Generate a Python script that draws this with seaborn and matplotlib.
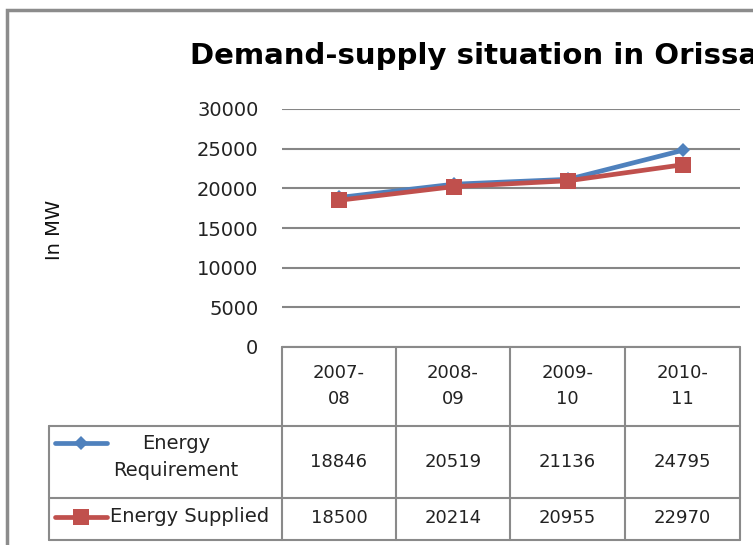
import pandas as pd
import seaborn as sns
import matplotlib.pyplot as plt
from matplotlib.lines import Line2D
from matplotlib.patches import Rectangle

# data
periods = ['2007-\n08', '2008-\n09', '2009-\n10', '2010-\n11']
requirement = [18846, 20519, 21136, 24795]
supplied = [18500, 20214, 20955, 22970]
series_names = ['Energy\nRequirement', 'Energy Supplied']
colors = ['#4F81BD', '#C0504D']

sns.set_style('white')
plt.rcParams['font.family'] = ['DejaVu Sans']

W, H = 753, 545
fig = plt.figure(figsize=(W / 100, H / 100), dpi=100)


def fx(x):
    return x / W


def fy(y):
    return 1 - y / H


txt_c = '#222222'
fs = 13

# plot area
ax = fig.add_axes([fx(282), fy(347), fx(740) - fx(282), fy(109) - fy(347)])

df_req = pd.DataFrame({'period': periods, 'value': requirement})
df_sup = pd.DataFrame({'period': periods, 'value': supplied})
sns.lineplot(data=df_req, x='period', y='value', ax=ax, color=colors[0], lw=3.4,
             marker='D', markersize=7, markeredgewidth=0, sort=False)
sns.lineplot(data=df_sup, x='period', y='value', ax=ax, color=colors[1], lw=3.4,
             marker='s', markersize=12, markeredgewidth=0, sort=False)

ax.set_xlim(-0.5, 3.5)
ax.set_ylim(0, 30000)
ax.set_yticks(range(0, 30001, 5000))
ax.yaxis.grid(True, color='#868686', lw=1.5)
ax.set_axisbelow(True)
for s in ax.spines.values():
    s.set_visible(False)
ax.set_xticks([])
ax.set_xlabel('')
ax.set_ylabel('')
ax.tick_params(axis='y', labelsize=14, colors=txt_c, pad=17, length=0)

fig.text(fx(55), fy(230), 'In MW', rotation=90, ha='center', va='center',
         fontsize=14, color='#111111')

# title (cut off on the right like the original)
fig.text(fx(190), fy(56), 'Demand-supply situation in Orissa', ha='left', va='center',
         fontsize=21, fontweight='bold', color='black')

# data table
grid_c = '#8a8a8a'
col_x = [282, 396, 510, 625, 740]
for x in col_x:
    fig.add_artist(Line2D([fx(x), fx(x)], [fy(347), fy(540)], color=grid_c, lw=1.5))
fig.add_artist(Line2D([fx(49), fx(49)], [fy(426), fy(540)], color=grid_c, lw=1.5))
fig.add_artist(Line2D([fx(282), fx(740)], [fy(347), fy(347)], color=grid_c, lw=1.5))
for y in [426, 498, 540]:
    fig.add_artist(Line2D([fx(49), fx(740)], [fy(y), fy(y)], color=grid_c, lw=1.5))

centers = [(col_x[i] + col_x[i + 1]) / 2 for i in range(4)]
for cx, p in zip(centers, periods):
    fig.text(fx(cx), fy(386), p, ha='center', va='center', fontsize=fs,
             color=txt_c, linespacing=1.6)
for cx, v in zip(centers, requirement):
    fig.text(fx(cx), fy(462), str(v), ha='center', va='center', fontsize=fs, color=txt_c)
for cx, v in zip(centers, supplied):
    fig.text(fx(cx), fy(518), str(v), ha='center', va='center', fontsize=fs, color=txt_c)

# legend keys inside table
fig.add_artist(Line2D([fx(55), fx(107)], [fy(443), fy(443)], color=colors[0], lw=3.4))
fig.add_artist(Line2D([fx(81)], [fy(443)], color=colors[0], marker='D', markersize=7,
                      markeredgewidth=0, lw=0))
fig.add_artist(Line2D([fx(55), fx(107)], [fy(517), fy(517)], color=colors[1], lw=3.4))
fig.add_artist(Line2D([fx(81)], [fy(517)], color=colors[1], marker='s', markersize=12,
                      markeredgewidth=0, lw=0))
fig.text(fx(176), fy(457), series_names[0], ha='center', va='center', fontsize=14,
         color=txt_c, linespacing=1.5)
fig.text(fx(110), fy(517), series_names[1], ha='left', va='center', fontsize=14,
         color=txt_c)

# chart frame
fig.add_artist(Rectangle((fx(7), fy(560)), 1.2, fy(10) - fy(560), fill=False,
                         edgecolor='#8c8c8c', lw=2.5, transform=fig.transFigure))

fig.savefig('out.png', dpi=100)
